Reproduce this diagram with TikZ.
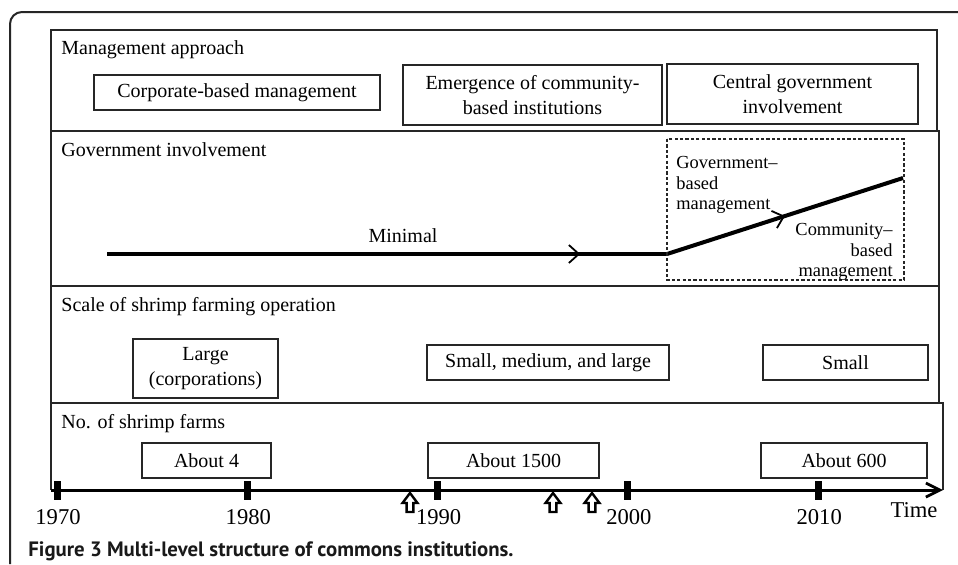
\documentclass[tikz,border=0pt]{standalone}
\usepackage{fontspec}
\setmainfont{Liberation Serif}
\newfontfamily\capfont{PT Sans}
\usetikzlibrary{positioning, arrows.meta, decorations.markings}

\tikzset{
	panel/.style={draw=black!85, line width=0.7pt},
	paneltitle/.style={anchor=base west, inner sep=0pt, font=\fontsize{10}{12}\selectfont},
	lblbox/.style={draw=black!85, line width=0.7pt, inner sep=0pt, align=center, font=\fontsize{10}{12.5}\selectfont},
	smalltext/.style={inner sep=0pt, font=\fontsize{9.2}{10.3}\selectfont},
	trend/.style={line width=2pt},
	yearlbl/.style={inner sep=0pt, font=\fontsize{11.3}{13}\selectfont},
	uparrow/.style={draw, line width=1.2pt, fill=white, line join=miter},
	chevron/.style={postaction={decorate}, decoration={markings,
		mark=at position #1 with {\arrow{Straight Barb[length=5pt, width=9pt, line width=0.9pt]}}}}
}

\begin{document}
\begin{tikzpicture}[x=0.5pt, y=-0.5pt]
	\useasboundingbox (0,0) rectangle (958,564);
	\fill[white] (0,0) rectangle (958,564);

	%% outer frame of the figure
	\draw[line width=1pt, black!85, rounded corners=6pt] (10,564) -- (10,12) -- (958,12);

	%% four levels
	\draw[panel] (51,30) rectangle (937,131);
	\draw[panel] (51,131) rectangle (939,286);
	\draw[panel] (51,286) rectangle (939,403);
	\draw[panel] (51,490) -- (51,403) -- (943,403) -- (943,490);

	\node[paneltitle] (mgmt) at (61,54) {Management approach};
	\node[paneltitle] (gov) at (61,156) {Government involvement};
	\node[paneltitle] (scale) at (61,311) {Scale of shrimp farming operation};
	\node[paneltitle] (farms) at (61,428) {No. of shrimp farms};

	%% management approach
	\node[lblbox, minimum width=143pt, minimum height=17.5pt] (corp) at (237,92.5) {Corporate-based management};
	\node[lblbox, minimum width=129.5pt, minimum height=30pt] (emerge) at (532.5,95) {Emergence of community-\\based institutions};
	\node[lblbox, minimum width=125.5pt, minimum height=30pt] (central) at (792.5,94) {Central government\\involvement};

	%% government involvement
	\coordinate (gstart) at (107,254);
	\coordinate (gbend) at (667,254);
	\coordinate (gend) at (903,178);
	\draw[trend, chevron=0.845] (gstart) -- (gbend);
	\draw[trend, chevron=0.5] (gbend) -- (gend);
	\node[inner sep=0pt, font=\fontsize{10}{12}\selectfont, anchor=base] (minimal) at (403,242) {Minimal};

	\draw[black!85, line width=0.7pt, dash pattern=on 1.6pt off 1.1pt] (667,139) rectangle (904,280);
	\node[smalltext, align=left, anchor=north west] (govbased) at (676,156) {Government–\\based\\management};
	\node[smalltext, align=right, anchor=north east] (combased) at (893,223) {Community–\\based\\management};

	%% scale of operation
	\node[lblbox, minimum width=72.5pt, minimum height=29.5pt] (large) at (205.5,368.5) {Large\\(corporations)};
	\node[lblbox, minimum width=121pt, minimum height=17.5pt] (mixed) at (548,362.5) {Small, medium, and large};
	\node[lblbox, minimum width=82.5pt, minimum height=17.5pt] (small) at (845.5,362.5) {Small};

	%% number of farms
	\node[lblbox, minimum width=64.5pt, minimum height=17.5pt] (four) at (206.5,460.5) {About 4};
	\node[lblbox, minimum width=85.5pt, minimum height=17.5pt] (many) at (513.5,460.5) {About 1500};
	\node[lblbox, minimum width=83pt, minimum height=17.5pt] (fewer) at (844,460.5) {About 600};

	%% time axis
	\coordinate (tstart) at (51,490);
	\coordinate (tend) at (943,490);
	\draw[line width=1.5pt, -{Straight Barb[length=7pt, width=7pt, line width=1.4pt]}] (tstart) -- (tend);
	\foreach \yr [count=\i from 0] in {1970,1980,1990,2000,2010} {
		\fill (57+190.3*\i-3.5,481) rectangle (57+190.3*\i+3.5,500);
		\node[yearlbl] (y\yr) at (58+190.3*\i,517) {\yr};
	}
	\node[yearlbl] (time) at (914,510) {Time};

	%% events
	\foreach \ex in {410,553,592}
		\draw[uparrow] (\ex-3.4,512) -- (\ex+3.4,512) -- (\ex+3.4,503) -- (\ex+7.5,503) -- (\ex,493) -- (\ex-7.5,503) -- (\ex-3.4,503) -- cycle;

	\node[anchor=base west, inner sep=0pt, font=\capfont\bfseries\fontsize{10.4}{12}\selectfont, text=black!90] (caption) at (28,556) {Figure 3 Multi-level structure of commons institutions.};
\end{tikzpicture}
\end{document}
